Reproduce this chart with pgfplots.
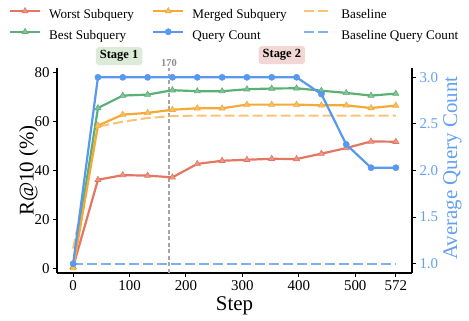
\documentclass[border=0pt]{standalone}
\usepackage{fontspec}
\setmainfont{Liberation Serif}
\usepackage{pgfplots}
\pgfplotsset{compat=1.18}
\definecolor{cred}{RGB}{228,118,98}
\definecolor{cgreen}{RGB}{92,176,118}
\definecolor{corange}{RGB}{245,170,55}
\definecolor{cblue}{RGB}{88,152,238}
\definecolor{corangel}{RGB}{248,195,120}
\definecolor{cbluel}{RGB}{130,175,240}
\definecolor{clabel}{RGB}{100,160,240}
\definecolor{stageone}{RGB}{220,235,215}
\definecolor{stagetwo}{RGB}{242,215,213}

\pgfplotstableread{
x worst best merged base
0 0.5 0.5 0 8
44 36.2 65.6 58.4 58
88 38.1 70.7 62.9 60
132 37.9 71.1 63.6 61.5
176 37.2 72.9 64.9 62.3
220 42.7 72.5 65.5 62.5
264 44.0 72.5 65.5 62.5
308 44.4 73.3 67.0 62.5
352 44.8 73.6 67.0 62.5
396 44.7 73.7 67.0 62.5
440 46.9 72.7 66.7 62.5
484 49.2 71.8 66.7 62.5
528 51.9 70.7 65.6 62.5
572 51.8 71.5 66.6 62.5
}\leftdata

\pgfplotstableread{
x qc bqc
0 1.0 1.0
44 3.0 1.0
88 3.0 1.0
132 3.0 1.0
176 3.0 1.0
220 3.0 1.0
264 3.0 1.0
308 3.0 1.0
352 3.0 1.0
396 3.0 1.0
440 2.82 1.0
484 2.28 1.0
528 2.03 1.0
572 2.03 1.0
}\rightdata

\pgfplotsset{
  common/.style={
    at={(57bp,48bp)}, anchor=south west,
    scale only axis, width=355bp, height=205bp,
    xmin=-28.6, xmax=600.6,
    tick align=outside, major tick length=4bp,
    tick style={line width=1bp, black},
    axis line style={line width=1.5bp, black, -},
    ticklabel style={font=\fontsize{15}{18}\selectfont},
    /pgf/number format/assume math mode=true,
    label style={font=\fontsize{21}{25}\selectfont},
    clip=false,
  },
  tri/.style={#1, line width=2.2bp, mark=triangle*, mark size=3.5bp,
    mark options={solid, fill=#1!75!white, draw=#1, line width=0.6bp}},
  dot/.style={cblue, line width=2.2bp, mark=*, mark size=3.1bp,
    mark options={solid, fill=cblue, draw=cblue, line width=0.5bp}},
}

\begin{document}
\begin{tikzpicture}
\useasboundingbox (0,0) rectangle (469bp,321bp);
\begin{axis}[common,
  ymin=-2, ymax=82,
  axis x line*=bottom, axis y line*=left,
  xtick={0,100,200,300,400,500,572},
  ytick={0,20,40,60,80},
  xlabel={Step}, ylabel={R@10 (\%)},
  xlabel style={at={(axis description cs:0.5,-0.185)}, anchor=base},
  ylabel style={at={(axis description cs:-0.066,0.5)}, anchor=base},
  legend columns=3,
  legend cell align=left,
  legend style={draw=none, fill=none,
    at={(axis description cs:-0.1352,1.295)}, anchor=north west,
    inner sep=0pt, outer sep=0pt,
    font=\fontsize{13.2}{16}\selectfont,
    row sep=7bp, column sep=0pt,
    nodes={inner sep=0pt, outer sep=0pt, text height=9.5bp, text depth=3bp}},
  legend image code/.code={%
    \path (0bp,4bp) -- (30bp,4bp);
    \draw[mark repeat=2, mark phase=2, #1] plot coordinates {(0bp,4bp) (15bp,4bp) (30bp,4bp)};},
]
\addlegendimage{tri=cred}
\addlegendentry{\makebox[111bp][l]{\hspace{8bp}Worst Subquery}}
\addlegendimage{tri=corange}
\addlegendentry{\makebox[119bp][l]{\hspace{8bp}Merged Subquery}}
\addlegendimage{corangel, line width=2bp, dash pattern=on 10bp off 4bp on 10bp off 6bp}
\addlegendentry{\hspace{6bp}Baseline}
\addlegendimage{tri=cgreen}
\addlegendentry{\makebox[111bp][l]{\hspace{8bp}Best Subquery}}
\addlegendimage{dot}
\addlegendentry{\makebox[119bp][l]{\hspace{8bp}Query Count}}
\addlegendimage{cbluel, line width=2bp, dash pattern=on 10bp off 4bp on 10bp off 6bp}
\addlegendentry{\hspace{6bp}Baseline Query Count}

\draw[black!35, line width=1.3bp, dash pattern=on 4bp off 2.5bp] (axis cs:170,-2) -- (axis cs:170,82);
\addplot[corangel, line width=2bp, dash pattern=on 10bp off 4bp, forget plot] table[x=x, y=base] {\leftdata};
\addplot[tri=cred, forget plot] table[x=x, y=worst] {\leftdata};
\addplot[tri=cgreen, forget plot] table[x=x, y=best] {\leftdata};
\addplot[tri=corange, forget plot] table[x=x, y=merged] {\leftdata};

\node[fill=stageone, rounded corners=3bp, inner xsep=4bp, inner ysep=3.5bp, font=\fontsize{12.5}{14}\selectfont\bfseries] at (axis cs:81.5,86.9) {Stage 1};
\node[fill=stagetwo, rounded corners=3bp, inner xsep=4bp, inner ysep=3.5bp, font=\fontsize{12.5}{14}\selectfont\bfseries] at (axis cs:370,87.3) {Stage 2};
\node[text=black!45, font=\fontsize{10.5}{12}\selectfont\bfseries] at (axis cs:170,84) {170};
\end{axis}

\begin{axis}[common,
  ymin=0.9, ymax=3.1,
  axis x line=none, axis y line*=right,
  ytick={1.0,1.5,2.0,2.5,3.0},
  yticklabel style={/pgf/number format/fixed, /pgf/number format/fixed zerofill, /pgf/number format/precision=1, text=clabel},
  ylabel={Average Query Count},
  ylabel style={at={(axis description cs:1.127,0.512)}, anchor=base, text=clabel},
]
\addplot[cbluel, line width=2bp, dash pattern=on 10bp off 4bp] table[x=x, y=bqc] {\rightdata};
\addplot[dot] table[x=x, y=qc] {\rightdata};
\end{axis}
\end{tikzpicture}
\end{document}
